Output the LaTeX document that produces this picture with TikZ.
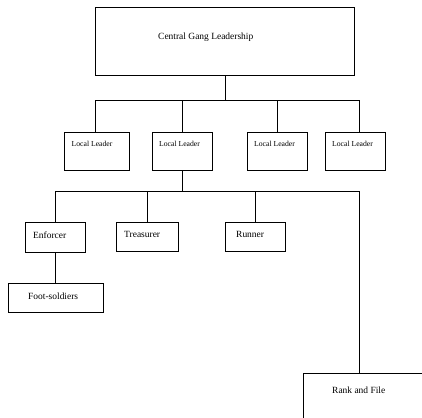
\documentclass[tikz,border=0pt]{standalone}
\usepackage{fontspec}
\setmainfont{Liberation Serif}
\usepackage{tikz}
\usetikzlibrary{positioning}

\tikzset{
  box/.style={draw, line width=1bp, rectangle, anchor=north west, inner sep=0pt, outer sep=0pt},
  txt/.style={anchor=west, inner sep=0pt, font=\fontsize{9.5}{11}\selectfont},
  smalltxt/.style={anchor=west, inner sep=0pt, font=\fontsize{7.7}{9}\selectfont},
  link/.style={draw, line width=1.3bp}
}

\begin{document}
\begin{tikzpicture}[x=1bp,y=-1bp]
\clip (0,0) rectangle (422,418);
\fill[white] (0,0) rectangle (422,418);
% top box
\node[box, minimum width=259bp, minimum height=68bp] (central) at (95.5,7.5) {};
\node[txt] (centraltxt) at (158,37) {Central Gang Leadership};
% local leaders
\node[box, minimum width=65bp, minimum height=38bp] (leadA) at (64.5,132.5) {};
\node[box, minimum width=60bp, minimum height=38bp] (leadB) at (152.5,132.5) {};
\node[box, minimum width=60bp, minimum height=38bp] (leadC) at (247.5,132.5) {};
\node[box, minimum width=60bp, minimum height=38bp] (leadD) at (325.5,132.5) {};
\node[smalltxt] (leadAtxt) at (71.5,143.5) {Local Leader};
\node[smalltxt] (leadBtxt) at (159,143.5) {Local Leader};
\node[smalltxt] (leadCtxt) at (254,143.5) {Local Leader};
\node[smalltxt] (leadDtxt) at (332,143.5) {Local Leader};
% second level
\node[box, minimum width=60bp, minimum height=30bp] (enforcer) at (25.5,222.5) {};
\node[box, minimum width=62bp, minimum height=29bp] (treasurer) at (116.5,222.5) {};
\node[box, minimum width=60bp, minimum height=29bp] (runner) at (225.5,222.5) {};
\node[box, minimum width=95bp, minimum height=29bp] (foot) at (8.5,283.5) {};
\node[box, minimum width=140bp, minimum height=70bp] (rank) at (303.5,373.5) {};
\node[txt] (enforcertxt) at (33,235) {Enforcer};
\node[txt] (treasurertxt) at (124,234.5) {Treasurer};
\node[txt] (runnertxt) at (236,234.5) {Runner};
\node[txt] (foottxt) at (28,296) {Foot-soldiers};
\node[txt] (ranktxt) at (332,390) {Rank and File};
% junctions
\coordinate (busA) at (225.5,100.5);
\coordinate (busB) at (182.5,191.5);
\coordinate (dropA) at (95.5,0);
\coordinate (dropD) at (359.5,0);
\coordinate (dropE) at (55.5,0);
\draw[link] (central.south -| busA) -- (busA);
\draw[link] (leadA.north -| dropA) |- (busA) -| (leadD.north -| dropD);
\draw[link] (leadB.north) -- (leadB.north |- busA);
\draw[link] (leadC.north) -- (leadC.north |- busA);
\draw[link] (leadB.south -| busB) -- (busB);
\draw[link] (enforcer.north -| dropE) |- (busB) -| (rank.north -| dropD);
\draw[link] (treasurer.north) -- (treasurer.north |- busB);
\draw[link] (runner.north) -- (runner.north |- busB);
\draw[link] (enforcer.south -| dropE) -- (foot.north -| dropE);
\end{tikzpicture}
\end{document}
